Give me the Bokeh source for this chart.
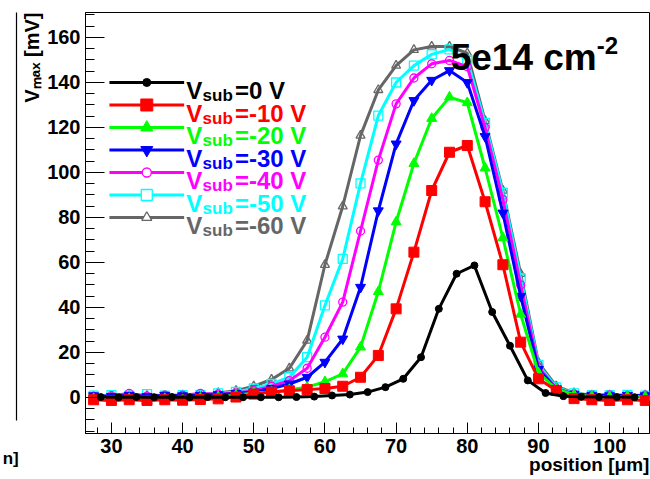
import math
from bokeh.plotting import figure
from bokeh.models import Range1d, Label, SingleIntervalTicker, LinearAxis, FixedTicker, Title
from bokeh.embed import file_html
from bokeh.resources import INLINE

# ---------------- data ----------------
x_black = [28.5, 31.0, 33.5, 36.0, 38.5, 41.0, 43.5, 46.0, 48.5, 51.0, 53.5, 56.0, 58.5,
           61.0, 63.5, 66.0, 68.5, 71.0, 73.5, 76.0, 78.5, 81.0, 83.5, 86.0, 88.5, 91.0,
           93.5, 96.0, 98.5, 101.0, 103.5]
x_col = [27.5, 30.0, 32.5, 35.0, 37.5, 40.0, 42.5, 45.0, 47.5, 50.0, 52.5, 55.0, 57.5,
         60.0, 62.5, 65.0, 67.5, 70.0, 72.5, 75.0, 77.5, 80.0, 82.5, 85.0, 87.5, 90.0,
         92.5, 95.0, 97.5, 100.0, 102.5, 105.0]

v_0 = [0.2, 0.1, 0.2, 0.1, 0.2, 0.1, 0.2, 0.1, 0.1, 0.1, 0.1, 0.2, 0.4, 0.9, 1.3, 2.4,
       4.6, 8.3, 17.9, 39.4, 55.0, 58.7, 38.0, 23.0, 7.6, 2.0, 0.6, 0.3, 0.2, 0.2, 0.1]
v_10 = [-1.0, -1.3, -1.0, -1.3, -1.0, -1.2, -0.9, -0.6, 0.2, 1.5, 2.4, 3.0, 3.5, 4.0,
        5.0, 9.0, 18.7, 39.4, 64.6, 92.0, 109.0, 112.0, 87.0, 59.0, 24.6, 8.3, 3.1, -0.5,
        -1.0, -1.3, -1.0, -1.3]
v_20 = [-0.5, -1.5, -0.5, -1.5, -0.5, -1.0, -0.3, 0.3, 1.0, 2.0, 2.5, 3.5, 4.6, 7.0,
        10.5, 22.4, 47.0, 78.0, 104.0, 124.0, 133.5, 131.0, 102.0, 71.0, 37.0, 11.0, 3.8,
        1.2, 0.5, 0.3, 0.5, 0.3]
v_30 = [0.8, 0.5, 1.0, 0.5, 1.0, 0.8, 1.0, 1.3, 1.8, 2.5, 4.0, 6.0, 9.0, 15.7, 26.0,
        49.0, 83.0, 112.7, 132.0, 141.0, 145.3, 140.0, 116.0, 82.0, 45.0, 12.5, 3.8, 1.5,
        1.0, 0.8, 1.0, 0.8]
v_40 = [0.5, 0.8, 1.8, 0.6, 1.0, 1.0, 1.8, 1.5, 2.0, 3.0, 5.0, 7.5, 13.0, 26.8, 42.4,
        74.0, 105.5, 130.5, 142.0, 148.3, 149.8, 147.0, 120.0, 88.0, 50.0, 13.5, 4.0, 1.5,
        1.0, 1.2, 0.8, 1.0]
v_50 = [0.8, 1.0, 0.8, 1.5, 0.8, 1.0, 1.2, 1.8, 2.5, 4.0, 6.0, 9.0, 17.9, 40.9, 61.6,
        95.2, 125.3, 140.0, 147.5, 152.5, 154.7, 150.0, 122.0, 91.0, 53.0, 14.5, 4.5, 1.8,
        1.0, 1.0, 1.2, 0.8]
v_60 = [0.5, 0.5, 0.8, 0.8, 0.8, 1.0, 1.2, 2.0, 3.0, 5.0, 8.0, 13.0, 25.3, 59.0, 85.0,
        116.4, 136.7, 147.5, 154.5, 156.0, 156.0, 153.0, 123.0, 92.0, 55.0, 15.5, 5.0,
        2.0, 1.0, 1.0, 0.8, 1.0]

labels = ["=0 V", "=-10 V", "=-20 V", "=-30 V", "=-40 V", "=-50 V", "=-60 V"]
colors = ["#000000", "#ff0000", "#00ff00", "#0000ff", "#ff00ff", "#00ffff", "#666666"]
markers = ["circle", "square", "triangle", "inverted_triangle", "circle", "square", "triangle"]
filled = [True, True, True, True, False, False, False]
msize = [7, 10, 10, 10, 8, 9, 9]
lsize = [8, 12, 12, 12, 9, 11, 10]
xs = [x_black, x_col, x_col, x_col, x_col, x_col, x_col]
ys = [v_0, v_10, v_20, v_30, v_40, v_50, v_60]

x_title = "position [μm]"
y_title = "Vₘₐₓ [mV]"
pad_title = ["5e14 cm", "-2"]
neighbour_tail = "n]"

# ---------------- geometry ----------------
W, H = 650, 479
FL, FR, FT, FB = 83, 649, 12, 433
XR = (26.36, 105.6)
YR = (-16.0, 171.11)

def dx(px):
    return XR[0] + (px - FL) * (XR[1] - XR[0]) / (FR - FL)

def dy(py):
    return YR[0] + (FB - py) * (YR[1] - YR[0]) / (FB - FT)

FONT = "Liberation Sans"
NBSP = "\u00a0"

p = figure(width=W, height=H, output_backend="svg", toolbar_location=None,
           x_range=Range1d(*XR), y_range=Range1d(*YR),
           min_border_left=FL, min_border_right=W - FR, min_border_top=FT,
           min_border_bottom=H - FB)
p.grid.visible = False
p.outline_line_color = "black"
p.outline_line_width = 1
p.background_fill_color = "white"
p.border_fill_color = "white"

xa = p.xaxis[0]
ya = p.yaxis[0]
xa.ticker = SingleIntervalTicker(interval=10, num_minor_ticks=5)
ya.ticker = SingleIntervalTicker(interval=20, num_minor_ticks=4)
for ax in (xa, ya):
    ax.axis_line_color = "black"
    ax.major_tick_line_color = "black"
    ax.minor_tick_line_color = "black"
    ax.major_tick_out = 0
    ax.minor_tick_out = 0
    ax.major_label_text_font = FONT
    ax.major_label_text_font_style = "bold"
    ax.major_label_text_font_size = "20px"
    ax.major_label_text_color = "black"
    ax.axis_label_text_font = FONT
    ax.axis_label_text_font_style = "bold"
    ax.axis_label_text_color = "black"
xa.major_tick_in = 11
xa.minor_tick_in = 6
ya.major_tick_in = 19
ya.minor_tick_in = 9
xa.major_label_standoff = 5
ya.major_label_standoff = 5

# x title: centred axis label, pushed to the right end of the axis
xa.axis_label = NBSP * 84 + x_title
xa.axis_label_text_font_size = "19px"
xa.axis_label_standoff = -2

# y title at the top of the axis
p.add_layout(Title(text=y_title, align="right", vertical_align="bottom", text_font=FONT,
                   text_font_style="bold", text_font_size="20px", text_color="black",
                   standoff=4), "left")

# frame edge of the neighbouring pad on the left
edge = LinearAxis(ticker=FixedTicker(ticks=[]), bounds=(dy(420), YR[1]),
                  major_tick_in=0, major_tick_out=0, minor_tick_in=0, minor_tick_out=0,
                  major_label_standoff=0, axis_line_color="black", axis_line_width=1.2)
p.add_layout(edge, "left")
# tail of the neighbouring pad's x title
p.add_layout(Label(x=dx(16), y=dy(458), text=neighbour_tail, text_color="black",
                   text_font=FONT, text_font_style="bold", text_font_size="17px",
                   text_baseline="alphabetic", text_align="right"), "left")

# ---------------- series (drawn so that black is on top) ----------------
for i in reversed(range(7)):
    c = colors[i]
    p.line(xs[i], ys[i], line_color=c, line_width=3)
    if filled[i]:
        p.scatter(xs[i], ys[i], marker=markers[i], size=msize[i], fill_color=c,
                  line_color=c, line_width=1)
    else:
        p.scatter(xs[i], ys[i], marker=markers[i], size=msize[i], fill_alpha=0,
                  line_color=c, line_width=1.3)

# ---------------- legend ----------------
leg_rows = [140, 130, 120, 110, 100, 90, 80]
for i in range(7):
    c = colors[i]
    yrow = leg_rows[i]
    p.line([dx(107), dx(182)], [yrow, yrow], line_color=c, line_width=3)
    if filled[i]:
        p.scatter([dx(144.5)], [yrow], marker=markers[i], size=lsize[i], fill_color=c,
                  line_color=c)
    else:
        p.scatter([dx(144.5)], [yrow], marker=markers[i], size=lsize[i], fill_color="white",
                  line_color=c, line_width=1.3)
    base_px = (FB - (yrow - YR[0]) * (FB - FT) / (YR[1] - YR[0])) + 8.5
    p.add_layout(Label(x=dx(184), y=dy(base_px), text="V", text_color=c,
                       text_font=FONT, text_font_style="bold", text_font_size="24px",
                       text_baseline="alphabetic", text_align="left"))
    p.add_layout(Label(x=dx(200.5), y=dy(base_px + 5), text="sub", text_color=c,
                       text_font=FONT, text_font_style="bold", text_font_size="17px",
                       text_baseline="alphabetic", text_align="left"))
    p.add_layout(Label(x=dx(233), y=dy(base_px), text=labels[i], text_color=c,
                       text_font=FONT, text_font_style="bold", text_font_size="24px",
                       text_baseline="alphabetic", text_align="left"))

# ---------------- pad title ----------------
p.add_layout(Label(x=dx(449.5), y=dy(57), text=pad_title[0], text_color="black",
                   text_font=FONT, text_font_style="bold", text_font_size="37px",
                   text_baseline="alphabetic", text_align="left"))
p.add_layout(Label(x=dx(596), y=dy(45), text=pad_title[1], text_color="black",
                   text_font=FONT, text_font_style="bold", text_font_size="24px",
                   text_baseline="alphabetic", text_align="left"))

open("out.html", "w").write(file_html(p, INLINE))
